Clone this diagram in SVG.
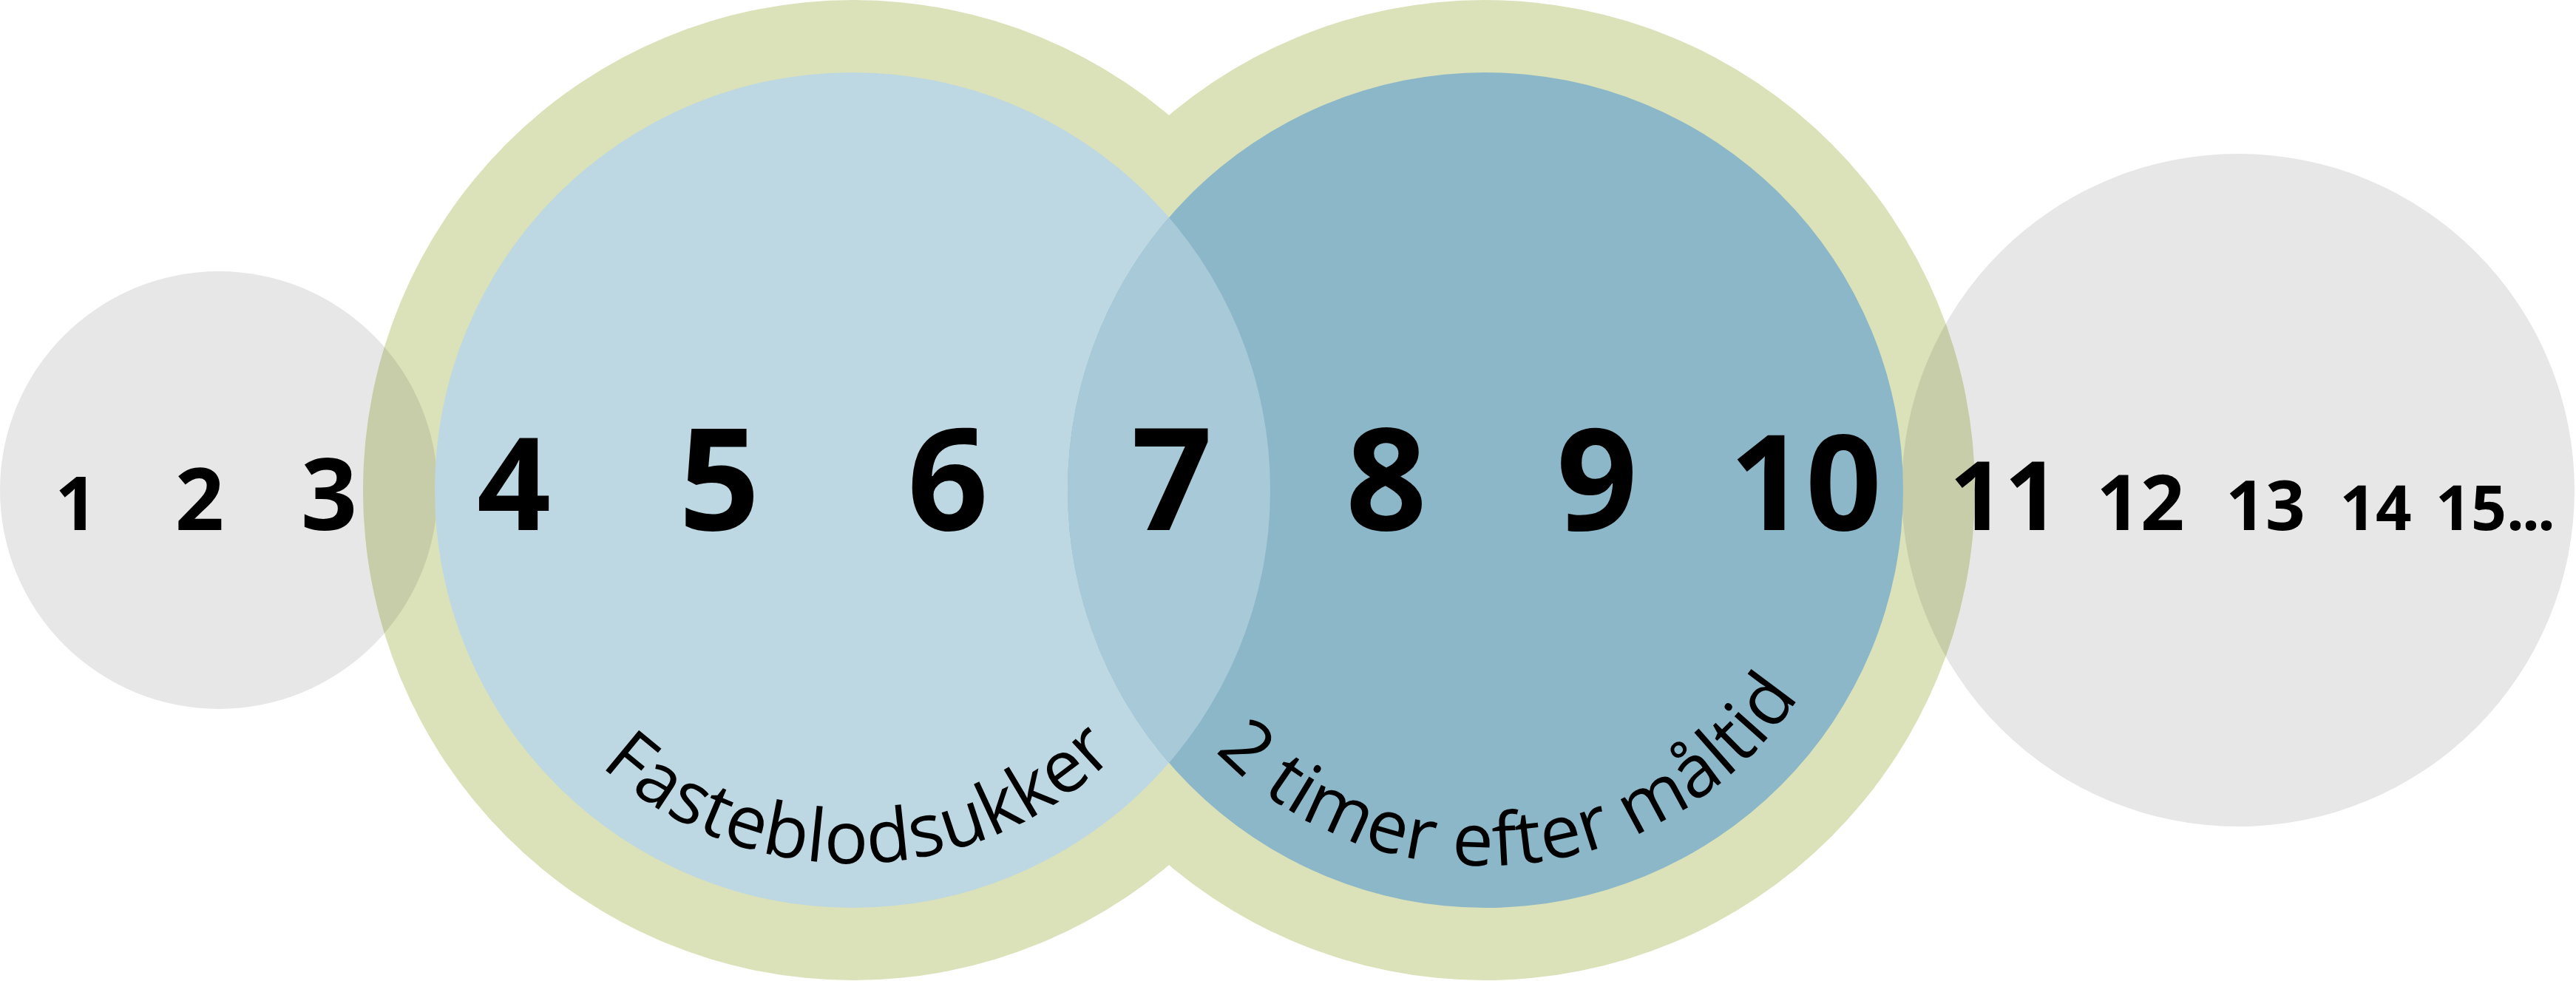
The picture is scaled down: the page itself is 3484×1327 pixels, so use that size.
<svg xmlns="http://www.w3.org/2000/svg" width="3484" height="1327" viewBox="0 0 3484 1327">
  <style>
    .gray { fill: #e7e7e7; }
    .green { fill: #dbe1b8; }
    .olive { fill: #c7cda8; }
    .blueL { fill: #bdd8e2; }
    .blueR { fill: #8cb7c8; }
    .lens { fill: #a8cad8; }
    .num { font-family: "Open Sans", "Liberation Sans", sans-serif; font-weight: 700; fill: #000; text-anchor: middle; }
    .arc { font-family: "Open Sans", "Liberation Sans", sans-serif; font-weight: 400; font-size: 99px; letter-spacing: 0.8px; fill: #000; }
  </style>
  <defs>
    <clipPath id="clipGreen">
      <circle cx="1154" cy="663" r="663"/>
      <circle cx="2008" cy="663" r="663"/>
    </clipPath>
    <clipPath id="clipBlueR">
      <circle cx="2009" cy="663" r="565"/>
    </clipPath>
    <path id="arcL" d="M 648 663 A 505 505 0 0 0 1658 663"/>
    <path id="arcR" d="M 1501 663 A 508 508 0 0 0 2517 663"/>
  </defs>
  <rect width="3484" height="1327" fill="#ffffff"/>

  <g id="outer-left">
    <circle class="gray" cx="296" cy="663" r="296"/>
  </g>
  <g id="outer-right">
    <circle class="gray" cx="3027" cy="663" r="455"/>
  </g>
  <g id="green-left">
    <circle class="green" cx="1154" cy="663" r="663"/>
  </g>
  <g id="green-right">
    <circle class="green" cx="2008" cy="663" r="663"/>
  </g>
  <g id="overlaps-gray-green" clip-path="url(#clipGreen)">
    <circle class="olive" cx="296" cy="663" r="296"/>
    <circle class="olive" cx="3027" cy="663" r="455"/>
  </g>
  <g id="fasteblodsukker">
    <circle class="blueL" cx="1153" cy="663" r="565"/>
  </g>
  <g id="efter-maltid">
    <circle class="blueR" cx="2009" cy="663" r="565"/>
  </g>
  <g id="overlap-blue" clip-path="url(#clipBlueR)">
    <circle class="lens" cx="1153" cy="663" r="565"/>
  </g>

  <g id="connectors"/>

  <g id="numbers">
    <text class="num" x="103" y="717" font-size="100">1</text>
    <text class="num" x="270" y="717" font-size="116">2</text>
    <text class="num" x="445" y="717" font-size="134">3</text>
    <text class="num" x="695" y="717" font-size="175">4</text>
    <text class="num" x="973" y="717" font-size="192">5</text>
    <text class="num" x="1282" y="717" font-size="192">6</text>
    <text class="num" x="1585" y="717" font-size="192">7</text>
    <text class="num" x="1875" y="717" font-size="192">8</text>
    <text class="num" x="2160" y="717" font-size="192">9</text>
    <text class="num" x="2442" y="717" font-size="180">10</text>
    <text class="num" x="2711" y="717" font-size="130">11</text>
    <text class="num" x="2895" y="717" font-size="104">12</text>
    <text class="num" x="3064" y="717" font-size="94">13</text>
    <text class="num" x="3213" y="717" font-size="85">14</text>
    <text class="num" x="3294" y="717" font-size="84" style="text-anchor:start">15<tspan letter-spacing="-3">...</tspan></text>
  </g>

  <g id="labels">
    <text class="arc"><textPath href="#arcL" startOffset="804" text-anchor="middle">Fasteblodsukker</textPath></text>
    <text class="arc"><textPath href="#arcR" startOffset="845" text-anchor="middle">2 timer efter måltid</textPath></text>
  </g>
</svg>
